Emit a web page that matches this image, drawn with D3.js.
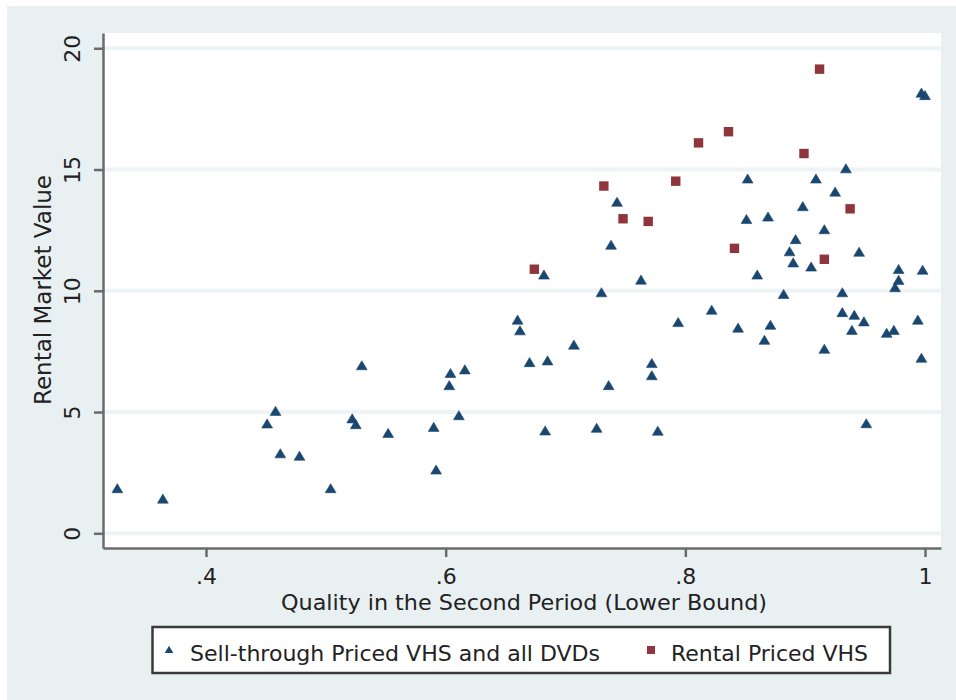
<!DOCTYPE html>
<html>
<head>
<meta charset="utf-8">
<script src="https://cdn.jsdelivr.net/npm/d3@7"></script>
<style>
body { margin: 0; background: #fff; }
text { font-family: "DejaVu Sans", sans-serif; fill: #222; }
</style>
</head>
<body>
<div id="chart"></div>
<script>
// sell-through priced VHS and all DVDs (triangles)
var triX = [0.326,0.364,0.451,0.458,0.462,0.478,0.504,0.522,0.525,0.530,0.552,0.590,0.592,0.604,0.603,0.611,0.616,0.660,0.662,0.670,0.682,0.685,0.683,0.707,0.730,0.726,0.736,0.738,0.743,0.763,0.772,0.772,0.777,0.794,0.822,0.844,0.851,0.852,0.860,0.866,0.869,0.871,0.882,0.887,0.890,0.892,0.898,0.905,0.909,0.916,0.916,0.925,0.931,0.931,0.934,0.939,0.941,0.945,0.949,0.951,0.968,0.974,0.975,0.978,0.978,0.994,0.997,0.998,0.997,1.000];
var triY = [1.85,1.42,4.52,5.04,3.29,3.19,1.85,4.73,4.49,6.92,4.13,4.38,2.62,6.60,6.10,4.86,6.75,8.80,8.36,7.05,10.66,7.12,4.23,7.77,9.93,4.34,6.10,11.89,13.66,10.45,7.01,6.51,4.22,8.70,9.21,8.47,12.95,14.62,10.66,7.97,13.05,8.59,9.86,11.62,11.16,12.12,13.48,10.99,14.62,12.53,7.60,14.08,9.93,9.11,15.04,8.38,9.00,11.60,8.73,4.53,8.26,8.38,10.14,10.89,10.44,8.80,7.23,10.86,18.16,18.06];

// rental priced VHS (squares)
var sqX = [0.674,0.732,0.748,0.769,0.792,0.811,0.836,0.841,0.899,0.912,0.916,0.9375];
var sqY = [10.89,14.32,12.97,12.86,14.52,16.10,16.56,11.75,15.66,19.14,11.30,13.38];

var xTicks = [0.4, 0.6, 0.8, 1];
var xTickLabels = [".4", ".6", ".8", "1"];
var yTicks = [0, 5, 10, 15, 20];

var seriesNames = ["Sell-through Priced VHS and all DVDs", "Rental Priced VHS"];

var svgWidth = 956;
var svgHeight = 700;

var margin = { top: 33, left: 103 };
var width = 838;
var height = 515;

var navy = "#1a476f";
var maroon = "#90353b";

var svg = d3.select("#chart")
    .append("svg")
    .attr("width", svgWidth)
    .attr("height", svgHeight);

// graph region background
svg.append("rect")
    .attr("x", 7)
    .attr("y", 6)
    .attr("width", svgWidth - 7)
    .attr("height", svgHeight - 6)
    .attr("fill", "#e9f0f2");

var chartGroup = svg.append("g")
    .attr("transform", `translate(${margin.left},${margin.top})`);

chartGroup.append("rect")
    .attr("width", width)
    .attr("height", height)
    .attr("fill", "#fff");

var xScale = d3.scaleLinear()
    .domain([0.31404, 1.01335])
    .range([0, width]);

var yScale = d3.scaleLinear()
    .domain([-0.606, 20.63])
    .range([height, 0]);

// gridlines
chartGroup.append("g")
    .selectAll("line")
    .data(yTicks)
    .enter()
    .append("line")
    .attr("x1", 0)
    .attr("x2", width)
    .attr("y1", d => yScale(d))
    .attr("y2", d => yScale(d))
    .attr("stroke", "#eef3f5")
    .attr("stroke-width", 4);

var bottomAxis = d3.axisBottom(xScale)
    .tickValues(xTicks)
    .tickSize(9)
    .tickSizeOuter(0)
    .tickFormat((d, i) => xTickLabels[i]);

var leftAxis = d3.axisLeft(yScale)
    .tickValues(yTicks)
    .tickSize(9)
    .tickSizeOuter(0);

var xAxis = chartGroup.append("g")
    .attr("transform", `translate(0, ${height})`)
    .call(bottomAxis);

xAxis.selectAll("text")
    .attr("y", 36)
    .attr("dy", null)
    .attr("font-size", "22px")
    .attr("font-family", "DejaVu Sans")
    .attr("fill", "#222");

var yAxis = chartGroup.append("g")
    .call(leftAxis);

yAxis.selectAll("text")
    .attr("x", null)
    .attr("dy", null)
    .attr("text-anchor", "middle")
    .attr("transform", "translate(-23,0) rotate(-90)")
    .attr("font-size", "22px")
    .attr("font-family", "DejaVu Sans")
    .attr("fill", "#222");

[xAxis, yAxis].forEach(function(ax) {
    ax.select(".domain").attr("stroke", "#6b6b6b").attr("stroke-width", 2.5);
    ax.selectAll(".tick line").attr("stroke", "#6b6b6b").attr("stroke-width", 2.5);
});

var triPath = "M0,-4.8L5.4,4.3L-5.4,4.3Z";

chartGroup.append("g")
    .selectAll("path")
    .data(triX)
    .enter()
    .append("path")
    .attr("d", triPath)
    .attr("transform", (d, i) => `translate(${xScale(d)},${yScale(triY[i])})`)
    .attr("fill", navy)
    .attr("stroke", navy)
    .attr("stroke-width", 0.6);

chartGroup.append("g")
    .selectAll("rect")
    .data(sqX)
    .enter()
    .append("rect")
    .attr("x", d => xScale(d) - 4.7)
    .attr("y", (d, i) => yScale(sqY[i]) - 4.7)
    .attr("width", 9.4)
    .attr("height", 9.4)
    .attr("fill", maroon);

// axis titles
svg.append("text")
    .attr("x", 281)
    .attr("y", 610)
    .attr("font-size", "22px")
    .attr("textLength", 486)
    .attr("lengthAdjust", "spacingAndGlyphs")
    .text("Quality in the Second Period (Lower Bound)");

svg.append("text")
    .attr("transform", "translate(51,290) rotate(-90)")
    .attr("text-anchor", "middle")
    .attr("font-size", "23px")
    .text("Rental Market Value");

// legend
var legend = svg.append("g");

legend.append("rect")
    .attr("x", 152.5)
    .attr("y", 627)
    .attr("width", 737.5)
    .attr("height", 46)
    .attr("fill", "#fff")
    .attr("stroke", "#3a3a3a")
    .attr("stroke-width", 2.5);

legend.append("path")
    .attr("d", "M0,-3.8L4.3,3.5L-4.3,3.5Z")
    .attr("transform", "translate(169,649.5)")
    .attr("fill", navy);

legend.append("text")
    .attr("x", 190)
    .attr("y", 661)
    .attr("font-size", "22px")
    .attr("textLength", 410)
    .attr("lengthAdjust", "spacingAndGlyphs")
    .text(seriesNames[0]);

legend.append("rect")
    .attr("x", 647)
    .attr("y", 646)
    .attr("width", 8)
    .attr("height", 8)
    .attr("fill", maroon);

legend.append("text")
    .attr("x", 671)
    .attr("y", 661)
    .attr("font-size", "22px")
    .attr("textLength", 197)
    .attr("lengthAdjust", "spacingAndGlyphs")
    .text(seriesNames[1]);
</script>
</body>
</html>
